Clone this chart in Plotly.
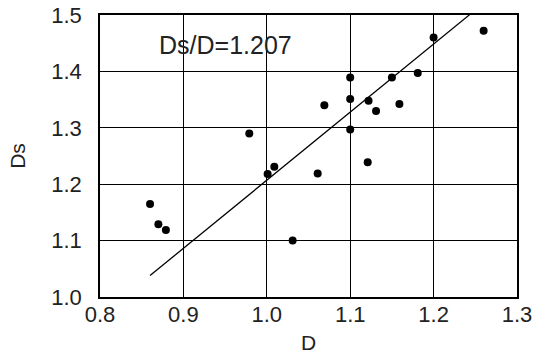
import plotly.graph_objects as go

# Measured diameters
D = [1.260, 1.200, 1.181, 1.150, 1.100, 1.100, 1.122, 1.131, 1.159, 1.069,
     1.100, 0.979, 1.009, 1.001, 1.061, 1.121, 0.860, 0.870, 0.879, 1.031]
Ds = [1.472, 1.460, 1.397, 1.389, 1.389, 1.351, 1.348, 1.330, 1.342, 1.340,
      1.297, 1.290, 1.231, 1.218, 1.219, 1.239, 1.165, 1.129, 1.119, 1.100]

# Fitted ratio Ds/D
ratio = 1.207
fit_D = [0.860, 1.243]
fit_Ds = [ratio * d for d in fit_D]

x_ticks = [0.8, 0.9, 1.0, 1.1, 1.2, 1.3]
y_ticks = [1.0, 1.1, 1.2, 1.3, 1.4, 1.5]

font_family = "Liberation Sans"
ink = "#222222"

fig = go.Figure()
fig.add_trace(go.Scatter(
    x=fit_D, y=fit_Ds, mode="lines",
    line=dict(color="black", width=1.3),
    hoverinfo="skip", showlegend=False,
))
fig.add_trace(go.Scatter(
    x=D, y=Ds, mode="markers",
    marker=dict(color="black", size=8),
    showlegend=False,
))

fig.add_annotation(
    x=0.9500, y=1.447, xref="x", yref="y",
    text=f"Ds/D={ratio:.3f}", showarrow=False,
    font=dict(family=font_family, size=25, color=ink),
)

axis_common = dict(
    showgrid=True, gridcolor="#000000", gridwidth=1.4,
    showline=True, linecolor="#000000", linewidth=1.6, mirror=True,
    zeroline=False, ticks="",
    tickfont=dict(family=font_family, size=22, color=ink),
    title_font=dict(family=font_family, size=21, color=ink),
)

fig.update_xaxes(
    range=[0.8, 1.3], tickvals=x_ticks,
    ticktext=[f"{v:.1f}" for v in x_ticks],
    ticklabelstandoff=-3,
    title_text="D", title_standoff=16, **axis_common,
)
fig.update_yaxes(
    range=[1.0, 1.5], tickvals=y_ticks,
    ticktext=[f"{v:.1f}" for v in y_ticks],
    ticklabelstandoff=12,
    title_text="Ds", title_standoff=20, **axis_common,
)

fig.update_layout(
    template="none",
    width=533, height=354,
    margin=dict(l=100, r=16, t=15, b=57),
    plot_bgcolor="white", paper_bgcolor="white",
)

fig.write_html("out.html")
